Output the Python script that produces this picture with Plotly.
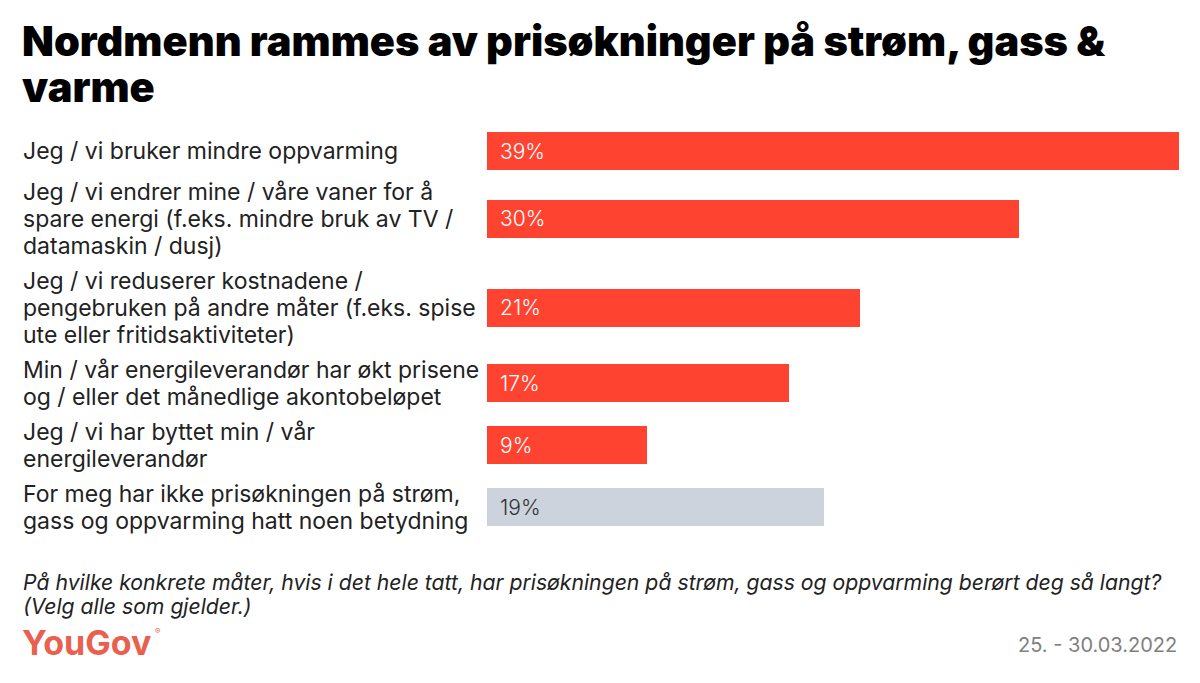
import plotly.graph_objects as go
import numpy as np

categories = [
    "Jeg / vi bruker mindre oppvarming",
    "Jeg / vi endrer mine / våre vaner for å<br>spare energi (f.eks. mindre bruk av TV /<br>datamaskin / dusj)",
    "Jeg / vi reduserer kostnadene /<br>pengebruken på andre måter (f.eks. spise<br>ute eller fritidsaktiviteter)",
    "Min / vår energileverandør har økt prisene<br>og / eller det månedlige akontobeløpet",
    "Jeg / vi har byttet min / vår<br>energileverandør",
    "For meg har ikke prisøkningen på strøm,<br>gass og oppvarming hatt noen betydning",
]
values = [39, 30, 21, 17, 9, 19]
value_labels = ["39%", "30%", "21%", "17%", "9%", "19%"]
bar_colors = ["#FF4331", "#FF4331", "#FF4331", "#FF4331", "#FF4331", "#CDD3DC"]
text_colors = ["#FFFFFF", "#FFFFFF", "#FFFFFF", "#FFFFFF", "#FFFFFF", "#333333"]

title_lines = ["Nordmenn rammes av prisøkninger på strøm, gass &", "varme"]
note_lines = ["På hvilke konkrete måter, hvis i det hele tatt, har prisøkningen på strøm, gass og oppvarming berørt deg så langt?",
              "(Velg alle som gjelder.)"]
brand = "YouGov"
date_text = "25. - 30.03.2022"

# page offset (browser body margin)
OFF = 8
W, H = 1200 - OFF, 683 - OFF
ML = 487 - OFF
MR = 1200 - 1179
PLOT_TOP = 128 - OFF
BAR_H = 38
LINE_H = 27
GAP = 8

# row layout: pitch depends on number of label lines
n_lines = np.array([c.count("<br>") + 1 for c in categories])
pitch = np.maximum(BAR_H, LINE_H * n_lines) + GAP
edges = np.concatenate([[0], np.cumsum(pitch)])
centers = (edges[:-1] + edges[1:]) / 2
total = edges[-1]
MB = H - PLOT_TOP - total

FONT = "Inter, Noto Sans, sans-serif"

fig = go.Figure()
fig.add_trace(go.Bar(
    x=values, y=centers, orientation="h", width=BAR_H,
    marker=dict(color=bar_colors, line=dict(width=0)),
    hoverinfo="skip",
))

plot_w = W - ML - MR
plot_h = total


def px_x(px):
    return (px - OFF - ML) / plot_w


def px_y(py):
    return 1 - (py - OFF - PLOT_TOP) / plot_h


annotations = []
# category labels, one annotation per line
for c, yc in zip(categories, centers):
    parts = c.split("<br>")
    n = len(parts)
    for i, p in enumerate(parts):
        annotations.append(dict(
            text=p, xref="paper", yref="y", x=px_x(21), y=yc + (i - (n - 1) / 2) * LINE_H,
            xanchor="left", yanchor="middle", align="left", showarrow=False,
            font=dict(family=FONT, size=23, color="#222222"),
        ))

# value labels inside bars
for v, t, tc, yc in zip(values, value_labels, text_colors, centers):
    annotations.append(dict(
        text=t, xref="x", yref="y", x=0, y=yc, xshift=11,
        xanchor="left", yanchor="middle", showarrow=False,
        font=dict(family=FONT, size=21, color=tc, weight=300),
    ))

# title
for i, (line, yc) in enumerate(zip(title_lines, [41, 87])):
    annotations.append(dict(
        text=line, xref="paper", yref="paper", x=px_x(20), y=px_y(yc),
        xanchor="left", yanchor="middle", align="left", showarrow=False,
        font=dict(family=FONT, size=41.5, color="#000000", weight=900)))

# footnote
for line, yc in zip(note_lines, [582, 606]):
    annotations.append(dict(
        text=f"<i>{line}</i>", xref="paper", yref="paper", x=px_x(21), y=px_y(yc),
        xanchor="left", yanchor="middle", align="left", showarrow=False,
        font=dict(family=FONT, size=21.2, color="#222222")))

annotations += [
    dict(text=brand, xref="paper", yref="paper", x=px_x(20), y=px_y(642),
         xanchor="left", yanchor="middle", showarrow=False,
         font=dict(family=FONT, size=34, color="#E9604F", weight=700)),
    dict(text="®", xref="paper", yref="paper", x=px_x(153), y=px_y(631),
         xanchor="left", yanchor="middle", showarrow=False,
         font=dict(family=FONT, size=8, color="#E9604F")),
    dict(text=date_text, xref="paper", yref="paper", x=px_x(1179), y=px_y(645),
         xanchor="right", yanchor="middle", align="right", showarrow=False,
         font=dict(family=FONT, size=20, color="#808080")),
]

fig.update_layout(
    width=W, height=H,
    margin=dict(l=ML, r=MR, t=PLOT_TOP, b=MB, pad=0),
    paper_bgcolor="white", plot_bgcolor="white",
    showlegend=False,
    xaxis=dict(range=[0, 39], visible=False, fixedrange=True),
    yaxis=dict(range=[total, 0], visible=False, fixedrange=True),
    annotations=annotations,
    bargap=0,
)

fig.write_html("out.html", config={"displayModeBar": False})
